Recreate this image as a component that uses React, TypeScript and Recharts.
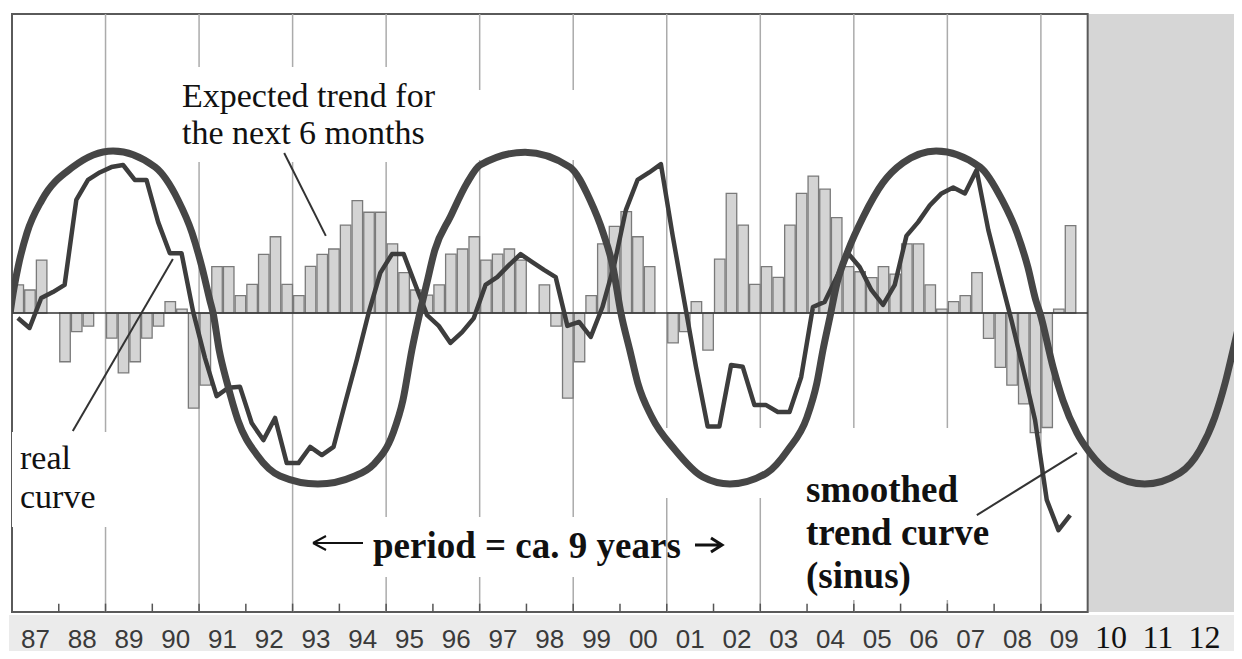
import { ComposedChart, Bar, Line, XAxis, YAxis, ReferenceArea, ReferenceLine } from 'recharts'

// first year of the quarterly series, forecast zone starts at 2010
const firstYear = 1987
const forecastStart = 2010
const axisEnd = 2013.3

const yearLabels = ['87', '88', '89', '90', '91', '92', '93', '94', '95', '96', '97', '98', '99',
    '00', '01', '02', '03', '04', '05', '06', '07', '08', '09', '10', '11', '12']

// expected trend for the next 6 months (quarterly bars)
const trendBars = [
    0.094, 0.077, 0.177, 0, -0.163, -0.062, -0.044, 0, -0.084, -0.2, -0.163, -0.084,
    -0.044, 0.038, 0.013, -0.318, -0.241, 0.155, 0.155, 0.058, 0.096, 0.196, 0.255, 0.096,
    0.058, 0.156, 0.196, 0.214, 0.294, 0.376, 0.337, 0.337, 0.231, 0.135, 0.077, 0.06,
    0.094, 0.197, 0.214, 0.255, 0.177, 0.197, 0.214, 0.177, 0, 0.094, -0.044, -0.285,
    -0.163, 0.058, 0.231, 0.29, 0.339, 0.255, 0.155, 0, -0.1, -0.062, 0.038, -0.124,
    0.18, 0.4, 0.294, 0.096, 0.155, 0.119, 0.294, 0.4, 0.458, 0.414, 0.319, 0.155,
    0.138, 0.118, 0.155, 0.13, 0.231, 0.231, 0.094, 0.013, 0.038, 0.058, 0.135, -0.085,
    -0.182, -0.241, -0.304, -0.4, -0.383, 0.013, 0.292, 0,
]

// real curve (quarterly)
const realCurve = [
    -0.017, -0.05, 0.05, 0.07, 0.094, 0.378, 0.445, 0.47, 0.488, 0.495, 0.445, 0.445,
    0.304, 0.2, 0.2, 0.003, -0.15, -0.278, -0.25, -0.247, -0.368, -0.425, -0.351, -0.502,
    -0.502, -0.448, -0.475, -0.448, -0.3, -0.155, 0, 0.134, 0.197, 0.197, 0.094, -0.007,
    -0.043, -0.1, -0.064, -0.017, 0.094, 0.12, 0.16, 0.197, 0.17, 0.144, 0.12, -0.043,
    -0.03, -0.08, 0.02, 0.16, 0.344, 0.445, 0.47, 0.498, 0.26, 0.04, -0.18, -0.38,
    -0.38, -0.174, -0.18, -0.308, -0.308, -0.331, -0.331, -0.214, 0.02, 0.037, 0.117, 0.2,
    0.154, 0.077, 0.027, 0.094, 0.258, 0.304, 0.36, 0.4, 0.42, 0.4, 0.478, 0.278,
    0.124, -0.027, -0.19, -0.358, -0.625, -0.726, -0.676, null,
]

// smoothed trend curve (sinus), [year, value]
const sineCurve: [number, number][] = [
    [1986.96, 0], [1987.0, 0.043], [1987.13, 0.154], [1987.32, 0.268], [1987.64, 0.378], [1988.3, 0.488],
    [1989.16, 0.542], [1990.06, 0.488], [1990.55, 0.378], [1990.85, 0.268], [1991.06, 0.154],
    [1991.23, 0.043], [1991.3, 0], [1991.43, -0.124], [1991.6, -0.234], [1991.83, -0.358],
    [1992.24, -0.475], [1992.73, -0.545], [1993.54, -0.572], [1994.33, -0.545], [1994.72, -0.508],
    [1995.15, -0.401], [1995.36, -0.291], [1995.55, -0.124], [1995.72, 0], [1995.87, 0.1],
    [1996.04, 0.21], [1996.37, 0.321], [1996.73, 0.435], [1997.01, 0.495], [1997.97, 0.538],
    [1998.93, 0.488], [1999.36, 0.378], [1999.64, 0.268], [1999.85, 0.154], [2000.02, 0],
    [2000.21, -0.124], [2000.38, -0.234], [2000.68, -0.348], [2001.18, -0.458], [2001.77, -0.548],
    [2002.35, -0.572], [2003.14, -0.535], [2003.59, -0.458], [2004.0, -0.348], [2004.21, -0.234],
    [2004.34, -0.124], [2004.49, -0.013], [2004.64, 0.1], [2004.88, 0.21], [2005.2, 0.321],
    [2005.62, 0.435], [2006.05, 0.502], [2006.76, 0.542], [2007.7, 0.488], [2008.17, 0.378],
    [2008.49, 0.268], [2008.72, 0.154], [2008.89, 0.043], [2008.98, 0], [2009.26, -0.181],
    [2009.47, -0.291], [2009.77, -0.401], [2010.05, -0.468], [2010.48, -0.535], [2011.22, -0.572],
    [2011.97, -0.535], [2012.4, -0.458], [2012.72, -0.348], [2012.94, -0.234], [2013.11, -0.124],
    [2013.26, -0.023],
]

const gridYears = [1989, 1991, 1993, 1995, 1997, 1999, 2001, 2003, 2005, 2007, 2009]
const tickYears = [1988, 1989, 1990, 1991, 1992, 1993, 1994, 1995, 1996, 1997, 1998, 1999,
    2000, 2001, 2002, 2003, 2004, 2005, 2006, 2007, 2008, 2009]

const rows = trendBars.map((v, i) => ({
    t: firstYear + (i + 0.5) / 4,
    bar: v,
    real: realCurve[i],
}))
const sineRows = sineCurve.map(([t, v]) => ({ t, sine: v }))
const labelTicks = yearLabels.map((_, i) => firstYear + i + 0.5)

// white patches behind the annotations (they hide the grid lines)
const blankBoxes = [
    { x1: 1990.42, x2: 1996.9, y1: 0.505, y2: 0.823 },
    { x1: 1996.9, x2: 2000.0, y1: 0.512, y2: 0.746 },
    { x1: 1987, x2: 1989.1, y1: -0.716, y2: -0.398 },
    { x1: 1993.16, x2: 2000.85, y1: -0.883, y2: -0.682 },
    { x1: 2000.43, x2: 2008.12, y1: -0.619, y2: -0.385 },
    { x1: 2003.63, x2: 2008.12, y1: -0.96, y2: -0.385 },
]

// pointer lines of the annotations
const leaders = [
    [{ x: 1992.82, y: 0.535 }, { x: 1993.71, y: 0.258 }],
    [{ x: 1990.44, y: 0.181 }, { x: 1988.3, y: -0.395 }],
    [{ x: 2009.77, y: -0.468 }, { x: 2007.63, y: -0.676 }],
]

const notes = [
    { lines: ['Expected trend for', 'the next 6 months'], x: 182, y: 107, step: 37, size: 34, bold: false },
    { lines: ['real', 'curve'], x: 20, y: 469, step: 39, size: 34, bold: false },
    { lines: ['period = ca. 9 years'], x: 373, y: 558, step: 0, size: 37, bold: true },
    { lines: ['smoothed', 'trend curve', '(sinus)'], x: 806, y: 502, step: 43, size: 37, bold: true },
]

function YearTick({ x, y, payload }: any) {
    const year = Math.floor(payload.value)
    const forecast = year >= forecastStart
    return (
        <text
            x={x}
            y={y}
            dy={36}
            textAnchor="middle"
            fontFamily={forecast ? 'Liberation Serif' : 'Liberation Sans'}
            fontSize={forecast ? 32 : 26}
            fill={forecast ? '#111' : '#3a3a3a'}
        >
            {yearLabels[year - firstYear]}
        </text>
    )
}

export default function App() {
    return (
        <div style={{ position: 'relative', width: 1242, height: 659, margin: -8, background: '#fff' }}>
            {/* label band under the axis */}
            <div style={{ position: 'absolute', left: 9, top: 615, width: 1233, height: 44, background: '#ebebeb' }} />
            <div style={{ position: 'absolute', left: 0, top: 0 }}>
                <ComposedChart
                    width={1242}
                    height={659}
                    data={rows}
                    margin={{ top: 14, right: 0, left: 12, bottom: 0 }}
                >
                    <XAxis
                        dataKey="t"
                        type="number"
                        domain={[firstYear, axisEnd]}
                        allowDataOverflow
                        ticks={labelTicks}
                        interval={0}
                        tick={<YearTick />}
                        tickLine={false}
                        axisLine={false}
                        tickSize={0}
                        tickMargin={0}
                        height={47}
                    />
                    {/* separate hidden axis for the sine, so the bar width is not squeezed */}
                    <XAxis
                        xAxisId="sine"
                        dataKey="t"
                        type="number"
                        domain={[firstYear, axisEnd]}
                        allowDataOverflow
                        hide
                    />
                    <YAxis hide domain={[-1, 1]} allowDataOverflow />

                    {/* forecast zone */}
                    <ReferenceArea x1={forecastStart} x2={axisEnd} y1={-1} y2={1} fill="#d6d6d6" fillOpacity={1} stroke="none" zIndex={5} />
                    {/* plot frame */}
                    <ReferenceArea x1={firstYear} x2={forecastStart} y1={-1} y2={1} fill="none" stroke="#5a5a5a" strokeWidth={2} zIndex={10} />

                    {gridYears.map(yr => (
                        <ReferenceLine key={'g' + yr} x={yr} stroke="#ababab" strokeWidth={1.5} zIndex={20} />
                    ))}

                    {blankBoxes.map((b, i) => (
                        <ReferenceArea key={'b' + i} {...b} fill="#fff" fillOpacity={1} stroke="none" zIndex={30} />
                    ))}

                    {tickYears.map(yr => (
                        <ReferenceLine
                            key={'t' + yr}
                            segment={[{ x: yr, y: -1 }, { x: yr, y: -0.972 }]}
                            stroke="#555"
                            strokeWidth={1.5}
                            zIndex={35}
                        />
                    ))}

                    <Bar dataKey="bar" barSize={11.7} fill="#d4d4d4" stroke="#7a7a7a" strokeWidth={1.3} isAnimationActive={false} zIndex={40} />

                    <ReferenceLine segment={[{ x: firstYear, y: 0 }, { x: forecastStart, y: 0 }]} stroke="#333" strokeWidth={1.5} zIndex={50} />

                    <Line dataKey="real" type="linear" stroke="#3d3d3d" strokeWidth={4.5} strokeLinejoin="round" dot={false} activeDot={false} isAnimationActive={false} zIndex={60} />
                    <Line xAxisId="sine" data={sineRows} dataKey="sine" type="monotone" stroke="#464646" strokeWidth={7} dot={false} activeDot={false} isAnimationActive={false} zIndex={70} />

                    {leaders.map((seg, i) => (
                        <ReferenceLine key={'l' + i} segment={seg} stroke="#333" strokeWidth={2} zIndex={80} />
                    ))}
                </ComposedChart>
            </div>

            {/* annotation texts */}
            <svg width={1242} height={659} style={{ position: 'absolute', left: 0, top: 0, pointerEvents: 'none' }}>
                {notes.map((n, i) =>
                    n.lines.map((line, j) => (
                        <text
                            key={i + '-' + j}
                            x={n.x}
                            y={n.y + j * n.step}
                            fontFamily="Liberation Serif"
                            fontSize={n.size}
                            fontWeight={n.bold ? 'bold' : 'normal'}
                            fill="#111"
                        >
                            {line}
                        </text>
                    ))
                )}
                {/* arrows around the period note */}
                <path d="M313,543 L363,543 M313,543 L326,536 M313,543 L326,550" stroke="#111" strokeWidth={2} fill="none" />
                <path d="M695,545 L722,545 M711,538 L722,545 L711,552" stroke="#111" strokeWidth={3} fill="none" />
            </svg>
        </div>
    )
}
